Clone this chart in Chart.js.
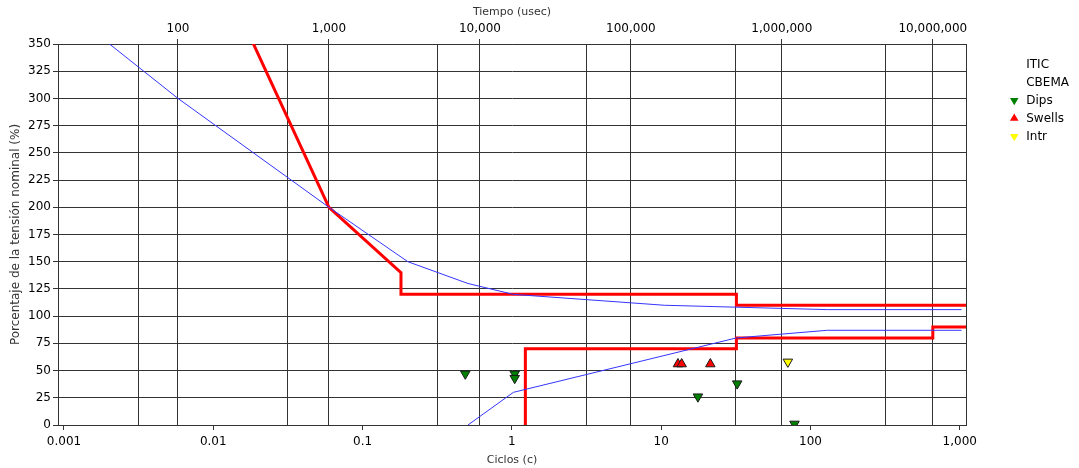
<!DOCTYPE html>
<html>
<head>
<meta charset="utf-8">
<script src="https://cdn.jsdelivr.net/npm/chart.js@4/dist/chart.umd.min.js"></script>
<style>
  html, body { margin: 0; padding: 0; background: #fff; }
  #itic { display: block; }
</style>
</head>
<body>
<canvas id="itic" width="1079" height="468"></canvas>
<script>
// ITIC curve, time in usec, voltage in % of nominal
const iticUpperUs  = [100, 1000, 3000, 3000, 500000, 500000, 1e8];
const iticUpperPct = [500, 200, 140, 120, 120, 110, 110];
const iticLowerUs  = [20000, 20000, 500000, 500000, 1e7, 1e7, 1e8];
const iticLowerPct = [0, 70, 70, 80, 80, 90, 90];

// CBEMA curve
const cbemaUpperUs  = [20, 100, 1000, 3333, 8333, 16667, 166667, 2e6, 1.55e7];
const cbemaUpperPct = [377, 300, 200, 150, 130, 120, 110, 106, 106];
const cbemaLowerUs  = [8333, 16667, 500000, 2e6, 1.55e7];
const cbemaLowerPct = [0, 30, 80, 87, 87];

// recorded events
const dipsUs    = [8000, 17000, 17000, 278000, 506000, 1213000];
const dipsPct   = [47, 47, 43, 26, 38, 1];
const swellsUs  = [205000, 217000, 336000];
const swellsPct = [56, 56, 56];
const intrUs    = [1096000];
const intrPct   = [58];

// axes
const cycleTicks = [0.001, 0.01, 0.1, 1, 10, 100, 1000];
const cycleGrid  = [0.00316, 0.0316, 0.316, 3.16, 31.6, 316];
const usecTicks  = [100, 1000, 10000, 100000, 1000000, 10000000];
const pctTicks   = [0, 25, 50, 75, 100, 125, 150, 175, 200, 225, 250, 275, 300, 325, 350];

const pts = (xs, ys) => xs.map((x, i) => ({x: x, y: ys[i]}));
const isDecade = v => Math.abs(Math.log10(v) - Math.round(Math.log10(v))) < 1e-6;
const fmt = v => v.toLocaleString('en-US', {maximumFractionDigits: 3});

const dark = '#333';
const clear = 'rgba(0,0,0,0)';
const font12 = {family: 'DejaVu Sans', size: 12};
const font11 = {family: 'DejaVu Sans', size: 11};

const itic = pts(iticUpperUs, iticUpperPct)
  .concat([{x: iticLowerUs[0], y: null}], pts(iticLowerUs, iticLowerPct));
const cbema = pts(cbemaUpperUs, cbemaUpperPct)
  .concat([{x: cbemaLowerUs[0], y: null}], pts(cbemaLowerUs, cbemaLowerPct));

function marker(label, xs, ys, color, rot) {
  return {
    label: label,
    data: pts(xs, ys),
    xAxisID: 'x2', yAxisID: 'y',
    pointStyle: 'triangle',
    rotation: rot,
    pointRotation: rot,
    pointRadius: 5.5,
    backgroundColor: color,
    borderColor: '#1a1a1a',
    borderWidth: 1,
    order: 0
  };
}

new Chart(document.getElementById('itic'), {
  type: 'scatter',
  data: {
    datasets: [
      {label: 'ITIC', data: itic, showLine: true, spanGaps: false, borderColor: '#ff0000', borderWidth: 3,
       pointRadius: 0, xAxisID: 'x2', yAxisID: 'y', order: 2},
      {label: 'CBEMA', data: cbema, showLine: true, spanGaps: false, borderColor: '#3535ff', borderWidth: 1,
       pointRadius: 0, xAxisID: 'x2', yAxisID: 'y', order: 1},
      marker('Dips', dipsUs, dipsPct, '#008000', 180),
      marker('Swells', swellsUs, swellsPct, '#ff0000', 0),
      marker('Intr', intrUs, intrPct, '#ffff00', 180)
    ]
  },
  options: {
    responsive: false,
    animation: false,
    devicePixelRatio: 1,
    layout: {padding: 0},
    plugins: {
      tooltip: {enabled: false},
      legend: {
        position: 'right',
        align: 'start',
        title: {display: true, text: ' ', font: font12, padding: {top: 38, bottom: 0}},
        labels: {
          usePointStyle: true,
          boxHeight: 7,
          padding: 6,
          color: '#000',
          font: font12,
          sort: (a, b) => a.datasetIndex - b.datasetIndex,
          generateLabels(chart) {
            const items = Chart.defaults.plugins.legend.labels.generateLabels(chart);
            items.forEach(it => {
              const ds = chart.data.datasets[it.datasetIndex];
              it.lineWidth = 0;
              if (ds.showLine) {
                it.fillStyle = clear;
                it.strokeStyle = clear;
              }
            });
            return items;
          }
        }
      }
    },
    scales: {
      x: {
        type: 'logarithmic',
        position: 'bottom',
        min: 0.000912,
        max: 1101,
        afterBuildTicks: s => {
          s.ticks = cycleTicks.concat(cycleGrid).sort((a, b) => a - b).map(v => ({value: v}));
        },
        afterFit: s => { s.height = 43; },
        ticks: {autoSkip: false, maxRotation: 0, padding: 5, color: '#000', font: font12,
                callback: v => isDecade(v) ? fmt(v) : ''},
        grid: {
          color: c => (c.tick && isDecade(c.tick.value)) ? clear : dark,
          tickColor: c => (c.tick && isDecade(c.tick.value)) ? dark : clear,
          tickLength: 5
        },
        border: {color: dark},
        title: {display: true, text: 'Ciclos (c)', color: '#333', font: font11, padding: {top: 0, bottom: 1}}
      },
      x2: {
        type: 'logarithmic',
        axis: 'x',
        position: 'top',
        min: 16.04,
        max: 1.659e7,
        afterBuildTicks: s => { s.ticks = usecTicks.map(v => ({value: v})); },
        afterFit: s => { s.height = 44; },
        ticks: {autoSkip: false, maxRotation: 0, padding: 3, color: '#000', font: font12,
                callback: v => fmt(v)},
        grid: {color: dark, tickColor: dark, tickLength: 5},
        border: {color: dark},
        title: {display: true, text: 'Tiempo (usec)', color: '#333', font: font11, padding: {top: 6, bottom: 0}}
      },
      y: {
        position: 'left',
        min: 0,
        max: 350,
        afterBuildTicks: s => { s.ticks = pctTicks.map(v => ({value: v})); },
        afterFit: s => { s.width = 58; },
        ticks: {padding: 2, color: '#000', font: font12},
        grid: {color: dark, tickColor: dark, tickLength: 5},
        border: {color: dark},
        title: {display: true, text: 'Porcentaje de la tensión nominal (%)', color: '#333', font: font12,
                padding: {top: 9, bottom: 0}}
      },
      y2: {
        axis: 'y',
        position: 'right',
        afterFit: s => { s.width = s.chart.width - s.chart.legend.width - 966; },
        ticks: {display: false},
        grid: {display: false, drawTicks: false},
        border: {color: dark}
      }
    }
  }
});
</script>
</body>
</html>
